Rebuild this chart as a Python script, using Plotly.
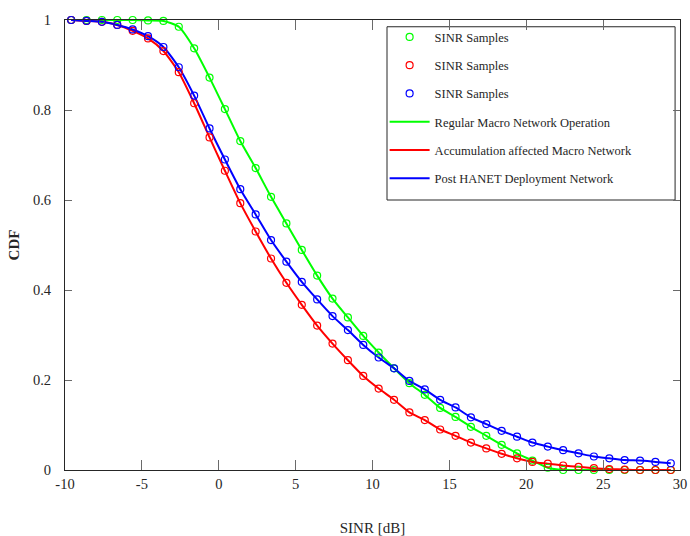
import plotly.graph_objects as go

sinr_db = [-9.6, -8.6, -7.6, -6.6, -5.6, -4.6, -3.6, -2.6, -1.6, -0.6,
           0.4, 1.4, 2.4, 3.4, 4.4, 5.4, 6.4, 7.4, 8.4, 9.4,
           10.4, 11.4, 12.4, 13.4, 14.4, 15.4, 16.4, 17.4, 18.4, 19.4,
           20.4, 21.4, 22.4, 23.4, 24.4, 25.4, 26.4, 27.4, 28.4, 29.4]

cdf_regular = [1.0, 1.0, 1.0, 1.0, 1.0, 0.999, 0.998, 0.985, 0.937, 0.872,
               0.802, 0.731, 0.671, 0.607, 0.548, 0.489, 0.432, 0.381, 0.339, 0.298,
               0.261, 0.226, 0.193, 0.167, 0.138, 0.118, 0.096, 0.076, 0.056, 0.037,
               0.021, 0.005, 0.0, 0.0, 0.0, 0.0, 0.0, 0.0, 0.0, 0.0]

cdf_accum = [1.0, 0.998, 0.996, 0.989, 0.976, 0.959, 0.931, 0.884, 0.815, 0.739,
             0.665, 0.593, 0.530, 0.470, 0.416, 0.367, 0.321, 0.281, 0.244, 0.209,
             0.181, 0.156, 0.128, 0.111, 0.090, 0.076, 0.061, 0.048, 0.036, 0.026,
             0.018, 0.014, 0.010, 0.007, 0.004, 0.002, 0.001, 0.0, 0.0, 0.0]

cdf_hanet = [1.0, 0.998, 0.996, 0.989, 0.979, 0.964, 0.940, 0.895, 0.832, 0.759,
             0.690, 0.624, 0.568, 0.511, 0.463, 0.418, 0.379, 0.342, 0.311, 0.278,
             0.250, 0.226, 0.198, 0.179, 0.156, 0.139, 0.117, 0.102, 0.087, 0.074,
             0.061, 0.052, 0.044, 0.037, 0.030, 0.026, 0.022, 0.021, 0.018, 0.015]

series_names = ["Regular Macro Network Operation",
                "Accumulation affected Macro Network",
                "Post HANET Deployment Network"]
sample_name = "SINR Samples"
colors = ["#00ff00", "#ff0000", "#0000ff"]
x_ticks = [-10, -5, 0, 5, 10, 15, 20, 25, 30]
x_tick_text = ["-10", "-5", "0", "5", "10", "15", "20", "25", "30"]
y_ticks = [0, 0.2, 0.4, 0.6, 0.8, 1]
y_tick_text = ["0", "0.2", "0.4", "0.6", "0.8", "1"]

FONT = "Liberation Serif, Times New Roman, serif"
series = [cdf_regular, cdf_accum, cdf_hanet]

fig = go.Figure()
for i, (ys, c, nm) in enumerate(zip(series, colors, series_names)):
    fig.add_trace(go.Scatter(
        x=sinr_db, y=ys, mode="lines", name=nm,
        line=dict(color=c, width=2, shape="spline", smoothing=0.6),
        legendrank=4 + i, legendgroup="l%d" % i, cliponaxis=False))
for i, (ys, c) in enumerate(zip(series, colors)):
    fig.add_trace(go.Scatter(
        x=sinr_db, y=ys, mode="markers", name=sample_name,
        marker=dict(symbol="circle-open", size=7, color=c, line=dict(width=1.2, color=c)),
        legendrank=1 + i, legendgroup="m%d" % i, cliponaxis=False))

axis_common = dict(
    showgrid=False, zeroline=False, showline=True, linecolor="#262626", linewidth=1,
    mirror="ticks", ticks="inside", tickcolor="#6a6a6a", tickwidth=1, automargin=False,
    tickfont=dict(family=FONT, size=14.5, color="#262626"),
)

fig.update_layout(
    width=690, height=536,
    margin=dict(l=65, r=10, t=20, b=66),
    paper_bgcolor="white", plot_bgcolor="white",
    font=dict(family=FONT, color="#262626"),
    xaxis=dict(range=[-10, 30], tickvals=x_ticks, ticktext=x_tick_text, ticklen=10,
               title=dict(text="SINR [dB]", font=dict(family=FONT, size=15, color="#262626"), standoff=31),
               ticklabelstandoff=1, **axis_common),
    yaxis=dict(range=[0, 1], tickvals=y_ticks, ticktext=y_tick_text, ticklen=7,
               title=dict(text="<b>CDF</b>", font=dict(family=FONT, size=15, color="#262626"), standoff=9),
               ticklabelstandoff=10, **axis_common),
    legend=dict(
        x=0.5197, y=0.995, xanchor="left", yanchor="top",
        bgcolor="rgba(0,0,0,0)", borderwidth=0,
        font=dict(family=FONT, size=12.5, color="#262626"),
        tracegroupgap=9, itemwidth=40,
    ),
    shapes=[dict(type="rect", xref="paper", yref="paper",
                 x0=0.5236, x1=0.992, y0=0.60, y1=0.985,
                 line=dict(color="#262626", width=1), fillcolor="rgba(0,0,0,0)", layer="below")],
    showlegend=True,
)

fig.write_html("out.html")
